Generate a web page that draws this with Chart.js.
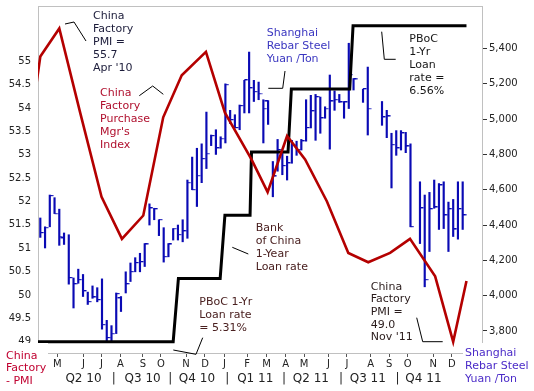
<!DOCTYPE html>
<html><head><meta charset="utf-8">
<script src="https://cdn.jsdelivr.net/npm/chart.js@4"></script>
<style>html,body{margin:0;padding:0;background:#fff}canvas{display:block}</style>
</head><body>
<canvas id="c" width="534" height="391"></canvas>
<script>
// ---- DATA (x = week index, week 0 ~ first week of April 2010) ----
const steelHigh  = [4440,4390,4570,4555,4490,4355,4345,4100,4150,4120,4020,4055,4045,4095,3860,3830,4015,3995,4135,4185,
                    4215,4240,4295,4520,4495,4430,4385,4295,4380,4400,4430,4655,4785,4835,4860,5040,4910,4940,4900,5200,
                    5050,5025,5080,5220,5380,5220,5210,5110,5105,4760,4885,4805,4790,4880,4875,4885,5110,5135,5140,5125,
                    5070,5250,5160,5140,5100,5430,5230,null,5170,5295,null,null,5100,5050,4920,4935,4935,4925,4860,null,
                    4645,4570,4585,4655,4635,4645,4530,4545,4645,4645];
const steelLow   = [4330,4270,4390,4465,4285,4290,4065,3930,4070,3995,3950,3985,3965,3810,3745,3745,3785,3910,4015,4080,
                    4135,4135,4165,4400,4430,4340,4190,4220,4315,4315,4305,4325,4600,4505,4640,4720,4850,4800,4835,4865,
                    4975,4950,4940,5035,5035,5100,5110,4865,4970,4560,4705,4685,4655,4750,4795,4825,4875,4950,4880,4920,
                    5005,4830,5050,5095,5005,5060,5165,null,5095,4910,null,null,4965,4895,4610,4795,4825,4810,4390,null,
                    4295,4050,4250,4495,4375,4380,4250,4335,4320,4375];
const steelClose = [4355,4385,4565,4465,4335,null,4100,4065,4090,4025,3965,3990,3975,3835,3760,3785,4010,null,4065,4135,
                    4185,4190,4290,4495,4490,4430,4220,4290,4380,4345,4365,4640,4600,4680,4775,4805,4905,4835,4890,5195,
                    4995,4950,5075,5220,5175,5155,5145,5060,null,4675,4825,4735,4750,4855,4825,4875,4950,5045,5125,5005,
                    5060,5100,5110,5095,5095,5250,5225,null,5170,5060,null,null,5010,5015,4855,4835,4920,4845,4390,null,
                    4495,4090,4490,4500,4625,4455,4490,4375,4490,4455];
const steelOpen  = {5:4325, 17:3985, 48:5100};

const pmiWeek  = [-4.3, 0, 4, 8.4, 12.9, 17.2, 21.7, 25.9, 29.8, 34.9, 38.9, 44.5, 47.9, 52.0, 55.8, 60.4, 64.9, 69.1, 73.7, 77.9, 83.2, 87.0, 89.8];
const pmiValue = [52.0, 55.1, 55.7, 53.9, 52.1, 51.2, 51.7, 53.8, 54.7, 55.2, 53.9, 52.9, 52.2, 53.4, 52.9, 52.0, 50.9, 50.7, 50.9, 51.2, 50.4, 49.0, 50.3];

const rateWeek  = [-1, 28.0, 29.1, 37.9, 38.9, 44.2, 44.5, 52.2, 52.9, 65.2, 65.9, 89.8];
const rateValue = [5.31, 5.31, 5.56, 5.56, 5.81, 5.81, 6.06, 6.06, 6.31, 6.31, 6.56, 6.56];

const monthTickWeek = [3.6, 9.1, 12.9, 16.9, 21.6, 25.4, 30.7, 34.7, 38.8, 43.6, 47.7, 51.7, 55.6, 60.7, 64.6, 69.6, 73.5, 77.4, 82.8, 86.7];
const monthLabels   = ['M','J','J','A','S','O','N','D','J','F','M','A','M','J','J','A','S','O','N','D'];
const quarterTickWeek = [6.0, 12.9, 19.5, 25.8, 31.9, 38.8, 45.2, 51.8, 57.9, 64.8, 70.9, 77.7, 83.6];
const quarterLabels   = ['Q2 10','|','Q3 10','|','Q4 10','|','Q1 11','|','Q2 11','|','Q3 11','|','Q4 11'];
const pmiTicks   = [49, 49.5, 50, 50.5, 51, 51.5, 52, 52.5, 53, 53.5, 54, 54.5, 55];
const steelTicks = [3800, 4000, 4200, 4400, 4600, 4800, 5000, 5200, 5400];

// ---- build ----
const rangeData = [], closeData = [], openData = [];
steelHigh.forEach((h, i) => {
  if (h == null) return;
  rangeData.push({x: i, y: [steelLow[i], h]});
  if (steelClose[i] != null) closeData.push({x: i, y: steelClose[i]});
});
Object.keys(steelOpen).forEach(k => openData.push({x: +k, y: steelOpen[k]}));
const pmiData = pmiWeek.map((w, i) => ({x: w, y: pmiValue[i]}));
const rateData = rateWeek.map((w, i) => ({x: w, y: rateValue[i]}));

const BLUE = '#0a0ab4';
function tickCanvas(right) {
  const c = document.createElement('canvas');
  c.width = 8; c.height = 2;
  const g = c.getContext('2d');
  g.fillStyle = BLUE;
  g.fillRect(right ? 4 : 0.5, 0, 3.5, 1.2);
  return c;
}

const FONT = '"DejaVu Sans", Verdana, sans-serif';
Chart.defaults.font.family = FONT;
Chart.defaults.color = '#222';

const XMIN = -0.485, XMAX = 93.07;

const boxPlugin = {
  id: 'box',
  beforeDatasetsDraw(chart) {
    const {ctx, chartArea: a} = chart;
    ctx.save();
    ctx.strokeStyle = '#c0c0c0';
    ctx.lineWidth = 1;
    ctx.strokeRect(a.left + 0.5, a.top + 0.5, a.right - a.left, a.bottom - a.top);
    ctx.restore();
  }
};

const notes = [
  {x: 93,  y: 16,    lh: 13.1, color: '#1c1c3a', lines: ['China', 'Factory', 'PMI =', '55.7', "Apr '10"]},
  {x: 100, y: 92.7,  lh: 13.1, color: '#b0102e', lines: ['China', 'Factory', 'Purchase', "Mgr's", 'Index']},
  {x: 266.7, y: 33.3, lh: 13,  color: '#3a36c0', lines: ['Shanghai', 'Rebar Steel', 'Yuan /Ton']},
  {x: 409.3, y: 39.3, lh: 12.9, color: '#161616', lines: ['PBoC', '1-Yr', 'Loan', 'rate =', '6.56%']},
  {x: 255.7, y: 227.7, lh: 13.2, color: '#4a2020', lines: ['Bank', 'of China', '1-Year', 'Loan rate']},
  {x: 199.3, y: 302.3, lh: 12.7, color: '#4a2020', lines: ['PBoC 1-Yr', 'Loan rate', '= 5.31%']},
  {x: 370.7, y: 286.7, lh: 12.7, color: '#2a1c1c', lines: ['China', 'Factory', 'PMI =', '49.0', "Nov '11"]},
  {x: 6,   y: 355.7, lh: 12.7, color: '#c00030', lines: ['China', 'Factory', '- PMI'], bg: [0, 343, 48, 48]},
  {x: 465, y: 353.3, lh: 13,   color: '#4b2bc8', lines: ['Shanghai', 'Rebar Steel', 'Yuan /Ton'], bg: [463, 343, 71, 48]}
];
const leaders = [
  [[65, 24], [74, 22], [86, 41]],
  [[139.3, 95.7], [152.7, 86], [163.3, 94.3]],
  [[268.3, 88.3], [282.7, 88.3], [285, 71]],
  [[381.7, 31.7], [384.3, 59.3], [395.7, 59.3]],
  [[232.3, 247.3], [248.3, 254]],
  [[173.3, 350], [196, 354.3], [202.7, 337.7]],
  [[416.7, 317.7], [422.7, 341.7], [442.7, 341.7]]
];
const notePlugin = {
  id: 'notes',
  afterDraw(chart) {
    const ctx = chart.ctx;
    ctx.save();
    ctx.strokeStyle = '#000';
    ctx.lineWidth = 1;
    leaders.forEach(p => {
      ctx.beginPath();
      p.forEach((q, i) => i ? ctx.lineTo(q[0], q[1]) : ctx.moveTo(q[0], q[1]));
      ctx.stroke();
    });
    ctx.font = '11px ' + FONT;
    ctx.textBaseline = 'middle';
    ctx.textAlign = 'left';
    notes.forEach(n => {
      if (n.bg) { ctx.fillStyle = '#fff'; ctx.fillRect(n.bg[0], n.bg[1], n.bg[2], n.bg[3]); }
      ctx.fillStyle = n.color;
      n.lines.forEach((t, i) => ctx.fillText(t, n.x, n.y + i * n.lh));
    });
    ctx.restore();
  }
};

new Chart(document.getElementById('c'), {
  type: 'bar',
  data: {
    datasets: [
      {type: 'line', label: 'China Factory PMI', data: pmiData, xAxisID: 'x', yAxisID: 'yPMI',
       borderColor: '#b40000', borderWidth: 2.6, pointRadius: 0, tension: 0, fill: false, order: 1},
      {type: 'line', label: 'PBoC 1-Yr Loan rate', data: rateData, xAxisID: 'x', yAxisID: 'yRate',
       borderColor: '#000', borderWidth: 3, pointRadius: 0, tension: 0, fill: false, order: 2},
      {type: 'bar', label: 'Shanghai Rebar Steel range', data: rangeData, xAxisID: 'x', yAxisID: 'ySteel',
       backgroundColor: BLUE, barThickness: 1.5, borderWidth: 0, order: 4},
      {type: 'scatter', label: 'Close', data: closeData, xAxisID: 'x', yAxisID: 'ySteel',
       pointStyle: tickCanvas(true), pointRadius: 3, order: 3, showLine: false},
      {type: 'scatter', label: 'Open', data: openData, xAxisID: 'x', yAxisID: 'ySteel',
       pointStyle: tickCanvas(false), pointRadius: 3, order: 3, showLine: false}
    ]
  },
  options: {
    responsive: false,
    devicePixelRatio: 1,
    animation: false,
    events: [],
    layout: {autoPadding: false, padding: {top: 6, left: 0, right: 0, bottom: 0}},
    plugins: {legend: {display: false}, tooltip: {enabled: false}},
    scales: {
      x: {
        type: 'linear', position: 'bottom', min: XMIN, max: XMAX, offset: false, weight: 0,
        grid: {drawOnChartArea: false, drawTicks: true, tickLength: 4, color: '#555', offset: false},
        border: {display: false},
        afterBuildTicks: s => { s.ticks = monthTickWeek.map(v => ({value: v})); },
        afterFit: s => { s.height = 17; s.paddingLeft = 0; s.paddingRight = 0; },
        ticks: {autoSkip: false, maxRotation: 0, padding: 1, font: {size: 10}, color: '#222',
                callback: (v, i) => monthLabels[i]}
      },
      x2: {
        type: 'linear', position: 'bottom', min: XMIN, max: XMAX, weight: 1,
        grid: {display: false, drawTicks: false}, border: {display: false},
        afterBuildTicks: s => { s.ticks = quarterTickWeek.map(v => ({value: v})); },
        afterFit: s => { s.height = 21; s.paddingLeft = 0; s.paddingRight = 0; },
        ticks: {autoSkip: false, maxRotation: 0, padding: 2, font: {size: 12}, color: '#222',
                callback: (v, i) => quarterLabels[i]}
      },
      yPMI: {
        type: 'linear', position: 'left', min: 48.76, max: 56.18,
        grid: {display: false, drawTicks: false}, border: {display: false},
        afterBuildTicks: s => { s.ticks = pmiTicks.map(v => ({value: v})); },
        afterFit: s => { s.width = 38; s.paddingTop = 0; s.paddingBottom = 0; },
        ticks: {padding: 7, font: {size: 10}, color: '#222', callback: v => String(v)}
      },
      ySteel: {
        type: 'linear', position: 'right', min: 3675, max: 5641,
        grid: {drawOnChartArea: false, drawTicks: true, tickLength: 5, color: '#333'},
        border: {display: false},
        afterBuildTicks: s => { s.ticks = steelTicks.map(v => ({value: v})); },
        afterFit: s => { s.width = 52; s.paddingTop = 0; s.paddingBottom = 0; },
        ticks: {padding: 2, font: {size: 10}, color: '#222', callback: v => v.toLocaleString('en-US')}
      },
      yRate: {
        type: 'linear', display: false, min: 5.265, max: 6.638
      }
    }
  },
  plugins: [boxPlugin, notePlugin]
});
</script>
</body></html>
